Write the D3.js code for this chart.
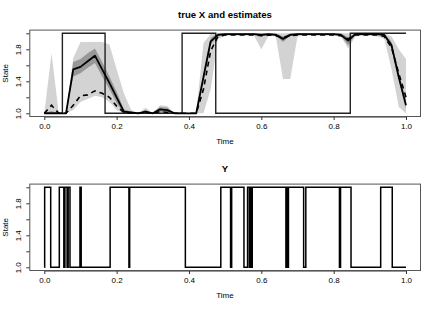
<!DOCTYPE html>
<html lang="en">
  <head>
    <meta charset="UTF-8" />
    <title>true X and estimates</title>
    <script src="https://d3js.org/d3.v7.min.js"></script>
    <style>
      body {
        margin: 0;
        background: #fff;
      }
      svg {
        display: block;
        font-family: "Liberation Sans", Arial, sans-serif;
      }
      .tick text {
        font-size: 8px;
        fill: #000;
      }
      .tick line,
      .domain {
        stroke: #333;
      }
      .box {
        fill: none;
        stroke: #555;
        stroke-width: 1;
      }
      .title {
        font-size: 9.6px;
        font-weight: bold;
        text-anchor: middle;
      }
      .axis-label {
        font-size: 8px;
        text-anchor: middle;
      }
    </style>
  </head>
  <body>
    <div id="chart"></div>

    <script>
      // estimation grid
      const time = [
        0, 0.02, 0.04, 0.06, 0.08, 0.1, 0.12, 0.14, 0.16, 0.18,
        0.2, 0.22, 0.24, 0.26, 0.28, 0.3, 0.32, 0.34, 0.36, 0.38,
        0.4, 0.42, 0.44, 0.46, 0.48, 0.5, 0.52, 0.54, 0.56, 0.58,
        0.6, 0.62, 0.64, 0.66, 0.68, 0.7, 0.72, 0.74, 0.76, 0.78,
        0.8, 0.82, 0.84, 0.86, 0.88, 0.9, 0.92, 0.94, 0.96, 0.98,
        1.0,
      ];

      const estSolid = [
        1.0, 1.0, 1.0, 1.0, 1.55, 1.58, 1.65, 1.72, 1.55, 1.38,
        1.2, 1.02, 1.01, 1.0, 1.02, 1.0, 1.05, 1.04, 1.0, 1.0,
        1.0, 1.0, 1.45, 1.9, 1.98, 1.99, 1.99, 1.99, 1.99, 1.99,
        1.98, 1.99, 1.98, 1.93, 1.98, 1.99, 1.99, 1.99, 1.99, 1.99,
        1.99, 1.98, 1.91, 1.99, 1.99, 1.99, 1.99, 1.98, 1.85, 1.45,
        1.1,
      ];

      const estDashed = [
        1.0, 1.1, 1.0, 1.0, 1.1, 1.22, 1.23, 1.28, 1.25, 1.2,
        1.09, 1.01, 1.0, 1.0, 1.01, 1.0, 1.02, 1.01, 1.0, 1.0,
        1.0, 1.0, 1.3, 1.78, 1.96, 1.98, 1.98, 1.98, 1.98, 1.98,
        1.97, 1.98, 1.97, 1.95, 1.97, 1.98, 1.98, 1.98, 1.98, 1.98,
        1.98, 1.97, 1.93, 1.98, 1.98, 1.98, 1.98, 1.96, 1.82, 1.5,
        1.2,
      ];

      const lightLo = [
        1.0, 1.0, 1.0, 1.0, 1.04, 1.14, 1.18, 1.22, 1.2, 1.14,
        1.04, 1.0, 1.0, 1.0, 1.0, 1.0, 1.0, 1.0, 1.0, 1.0,
        1.0, 1.0, 1.0, 1.3, 1.93, 1.97, 1.97, 1.97, 1.97, 1.97,
        1.8, 1.97, 1.96, 1.43, 1.43, 1.96, 1.97, 1.97, 1.97, 1.97,
        1.97, 1.96, 1.81, 1.96, 1.97, 1.97, 1.96, 1.93, 1.55, 1.08,
        1.0,
      ];

      const lightHi = [
        1.0, 1.75, 1.0, 1.0, 1.69, 1.89, 1.89, 1.89, 1.89, 1.86,
        1.55, 1.25, 1.04, 1.0, 1.07, 1.0, 1.1, 1.09, 1.0, 1.0,
        1.0, 1.0, 1.88, 1.99, 2.0, 2.0, 2.0, 2.0, 2.0, 2.0,
        2.0, 2.0, 2.0, 2.0, 2.0, 2.0, 2.0, 2.0, 2.0, 2.0,
        2.0, 2.0, 2.0, 2.0, 2.0, 2.0, 2.0, 2.0, 1.96, 1.8,
        1.68,
      ];

      const darkLo = [
        1.0, 1.0, 1.0, 1.0, 1.46, 1.5, 1.57, 1.63, 1.46, 1.3,
        1.13, 1.0, 1.0, 1.0, 1.0, 1.0, 1.02, 1.01, 1.0, 1.0,
        1.0, 1.0, 1.4, 1.86, 1.96, 1.98, 1.98, 1.98, 1.98, 1.98,
        1.96, 1.98, 1.97, 1.89, 1.97, 1.98, 1.98, 1.98, 1.98, 1.98,
        1.98, 1.97, 1.85, 1.98, 1.98, 1.98, 1.98, 1.96, 1.81, 1.41,
        1.06,
      ];

      const darkHi = [
        1.0, 1.03, 1.0, 1.0, 1.64, 1.68, 1.75, 1.81, 1.64, 1.46,
        1.27, 1.05, 1.02, 1.0, 1.04, 1.0, 1.08, 1.07, 1.0, 1.0,
        1.0, 1.0, 1.5, 1.94, 2.0, 2.0, 2.0, 2.0, 2.0, 2.0,
        2.0, 2.0, 2.0, 1.96, 2.0, 2.0, 2.0, 2.0, 2.0, 2.0,
        2.0, 2.0, 1.95, 2.0, 2.0, 2.0, 2.0, 2.0, 1.89, 1.5,
        1.14,
      ];

      // true X (step function, value holds until the next time)
      const xTrueTime = [0, 0.05, 0.168, 0.381, 0.474, 0.846, 1.0];
      const xTrueState = [1, 2, 1, 2, 1, 2, 2];

      // observed Y (step function)
      const yObsTime = [
        0, 0.001, 0.0177, 0.0415, 0.054, 0.057, 0.063, 0.066, 0.071, 0.0986,
        0.102, 0.182, 0.234, 0.236, 0.39, 0.488, 0.515, 0.518, 0.552, 0.562,
        0.567, 0.569, 0.573, 0.575, 0.668, 0.67, 0.672, 0.675, 0.717, 0.723,
        0.816, 0.819, 0.848, 0.93, 0.962, 1.0,
      ];
      const yObsState = [
        1, 2, 1, 2, 1, 2, 1, 2, 1, 2,
        1, 2, 1, 2, 1, 2, 1, 2, 1, 2,
        1, 2, 1, 2, 1, 2, 1, 2, 1, 2,
        1, 2, 1, 2, 1, 1,
      ];

      const xTicks = [0, 0.2, 0.4, 0.6, 0.8, 1.0];
      const yTicks = [1.0, 1.2, 1.4, 1.6, 1.8, 2.0];
      const yTickLabels = ["1.0", "", "1.4", "", "1.8", ""];

      const width = 436;
      const height = 309;

      const svg = d3
        .select("#chart")
        .append("svg")
        .attr("width", width)
        .attr("height", height);

      const x = d3.scaleLinear().domain([0, 1]).range([44.3, 406]);

      // draws axes and labels for one panel, returns its y scale
      function panel(top, title) {
        const y = d3
          .scaleLinear()
          .domain([1, 2])
          .range([top + 83.2, top + 3.2]);

        const bottom = top + 86.4;

        svg
          .append("g")
          .attr("transform", `translate(0, ${bottom})`)
          .call(
            d3
              .axisBottom(x)
              .tickValues(xTicks)
              .tickSize(3.5)
              .tickSizeOuter(0)
              .tickPadding(3)
              .tickFormat(d3.format(".1f"))
          );

        svg
          .append("g")
          .attr("transform", "translate(29.8, 0)")
          .call(
            d3
              .axisLeft(y)
              .tickValues(yTicks)
              .tickSize(3.5)
              .tickSizeOuter(0)
              .tickFormat((d, i) => yTickLabels[i])
          )
          .call((g) => g.select(".domain").remove())
          .call((g) =>
            g
              .selectAll(".tick text")
              .attr("transform", "rotate(-90)")
              .attr("x", 0)
              .attr("y", -8.6)
              .attr("dy", null)
              .attr("text-anchor", "middle")
          );

        svg
          .append("text")
          .attr("class", "title")
          .attr("x", 225)
          .attr("y", top - 11.8)
          .text(title);

        svg
          .append("text")
          .attr("class", "axis-label")
          .attr("x", 225)
          .attr("y", bottom + 27.5)
          .text("Time");

        svg
          .append("text")
          .attr("class", "axis-label")
          .attr("transform", `translate(8, ${top + 43.2}) rotate(-90)`)
          .text("State");

        return y;
      }

      function box(top) {
        svg
          .append("rect")
          .attr("class", "box")
          .attr("x", 29.8)
          .attr("y", top)
          .attr("width", 390.7)
          .attr("height", 86.4);
      }

      // ---- top panel: true X and estimates
      const yTop = panel(30.1, "true X and estimates");

      const band = (lo, hi) =>
        d3
          .area()
          .x((d, i) => x(time[i]))
          .y0((d, i) => yTop(lo[i]))
          .y1((d, i) => yTop(hi[i]));

      svg
        .append("path")
        .datum(time)
        .attr("fill", "#d3d3d3")
        .attr("d", band(lightLo, lightHi));

      svg
        .append("path")
        .datum(time)
        .attr("fill", "#989898")
        .attr("d", band(darkLo, darkHi));

      const stepLine = (yScale, ts) =>
        d3
          .line()
          .x((d, i) => x(ts[i]))
          .y((d) => yScale(d))
          .curve(d3.curveStepAfter);

      svg
        .append("path")
        .datum(xTrueState)
        .attr("fill", "none")
        .attr("stroke", "#222")
        .attr("stroke-width", 1.4)
        .attr("d", stepLine(yTop, xTrueTime));

      const estLine = d3
        .line()
        .x((d, i) => x(time[i]))
        .y((d) => yTop(d));

      svg
        .append("path")
        .datum(estSolid)
        .attr("fill", "none")
        .attr("stroke", "#000")
        .attr("stroke-width", 1.8)
        .attr("stroke-linejoin", "round")
        .attr("d", estLine);

      svg
        .append("path")
        .datum(estDashed)
        .attr("fill", "none")
        .attr("stroke", "#000")
        .attr("stroke-width", 1.6)
        .attr("stroke-dasharray", "5,4")
        .attr("d", estLine);

      box(30.1);

      // ---- bottom panel: Y
      const yBot = panel(184.1, "Y");

      svg
        .append("path")
        .datum(yObsState)
        .attr("fill", "none")
        .attr("stroke", "#000")
        .attr("stroke-width", 1.5)
        .attr("d", stepLine(yBot, yObsTime));

      box(184.1);
    </script>
  </body>
</html>
